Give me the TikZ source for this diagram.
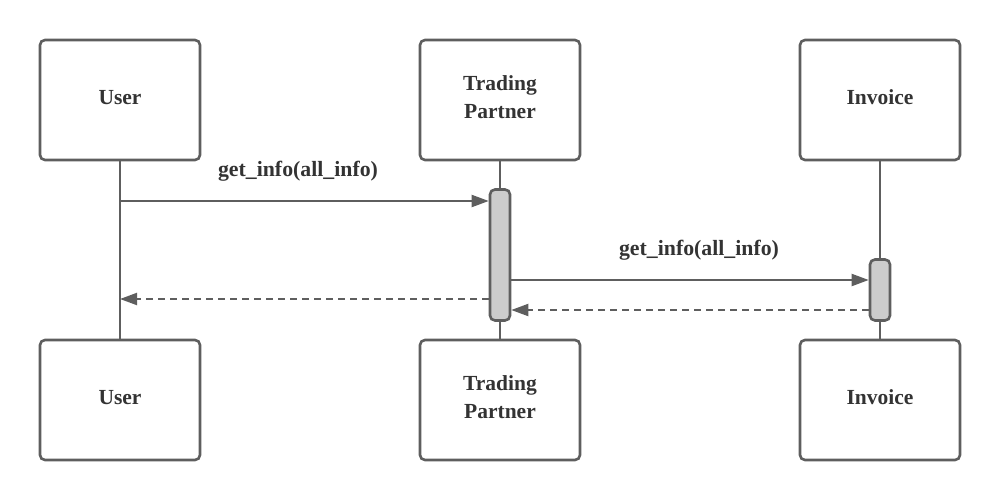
\documentclass[tikz,border=0pt]{standalone}
\usepackage{fontspec}
\setmainfont{Liberation Serif}
\usetikzlibrary{arrows.meta}
\definecolor{strk}{HTML}{5E5E5E}
\definecolor{txt}{HTML}{333333}
\definecolor{actfill}{HTML}{CCCCCC}
\begin{document}
\begin{tikzpicture}[x=1pt,y=-1pt,
  actor/.style={draw=strk, line width=2.6pt, rounded corners=5pt, minimum width=160pt, minimum height=120pt, inner sep=0pt},
  actorname/.style={text=txt, font=\fontsize{21.5}{28}\selectfont\bfseries, align=center, inner sep=0pt, yshift=2.5pt},
  actbar/.style={draw=strk, line width=2.6pt, rounded corners=5pt, fill=actfill, minimum width=20pt, inner sep=0pt},
  life/.style={draw=strk, line width=2pt},
  msg/.style={draw=strk, line width=2pt, -{Triangle[length=17pt,width=12pt]}},
  ret/.style={draw=strk, line width=2pt, dash pattern=on 7pt off 5pt, -{Triangle[length=17pt,width=12pt]}},
  lbl/.style={text=txt, font=\fontsize{21.8}{24}\selectfont\bfseries, inner sep=0pt}
]
\useasboundingbox (0,0) rectangle (1000,500);
\fill[white] (0,0) rectangle (1000,500);
% actor boxes
\node[actor] (uT) at (120,100) {};
\node[actor] (tT) at (500,100) {};
\node[actor] (iT) at (880,100) {};
\node[actor] (uB) at (120,400) {};
\node[actor] (tB) at (500,400) {};
\node[actor] (iB) at (880,400) {};
\node[actorname] (uTn) at (uT.center) {User};
\node[actorname] (tTn) at (tT.center) {Trading\\Partner};
\node[actorname] (iTn) at (iT.center) {Invoice};
\node[actorname] (uBn) at (uB.center) {User};
\node[actorname] (tBn) at (tB.center) {Trading\\Partner};
\node[actorname] (iBn) at (iB.center) {Invoice};
% lifelines
\draw[life] (uT.south) -- (uB.north);
\draw[life] (tT.south) -- (tB.north);
\draw[life] (iT.south) -- (iB.north);
% activation bars
\node[actbar, minimum height=131pt] (tA) at (500,255) {};
\node[actbar, minimum height=61pt] (iA) at (880,290) {};
% messages
\draw[msg] (uT.south |- 0,201) -- (tA.west |- 0,201);
\draw[msg] (tA.east |- 0,280) -- (iA.west |- 0,280);
\draw[ret] (iA.west |- 0,310) -- (tA.east |- 0,310);
\draw[ret] (tA.west |- 0,299) -- (uT.south |- 0,299);
% labels
\node[lbl] (l1) at (298,171) {get\_info(all\_info)};
\node[lbl] (l2) at (699,250) {get\_info(all\_info)};
\end{tikzpicture}
\end{document}
